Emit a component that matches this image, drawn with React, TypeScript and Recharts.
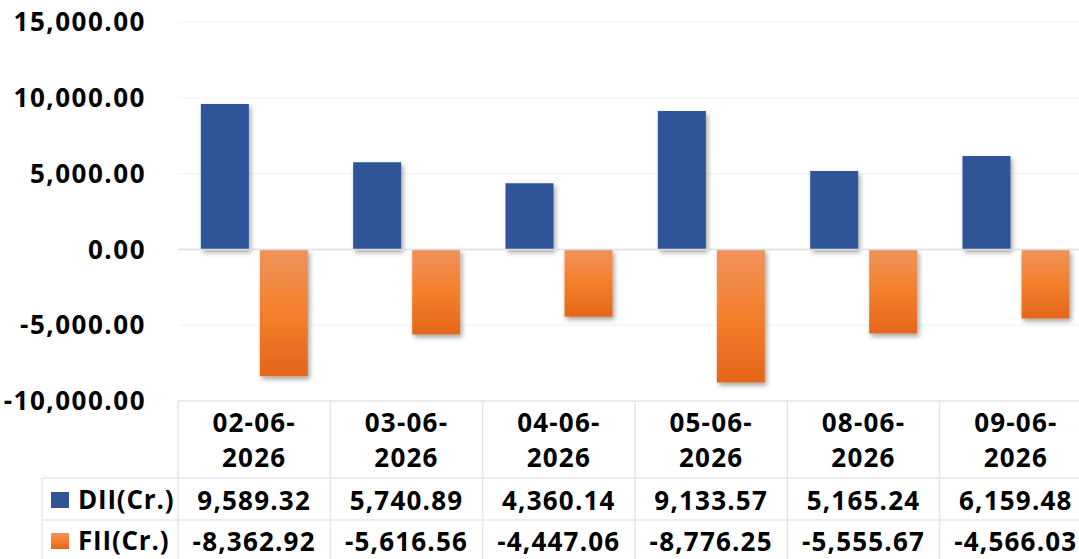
import React from 'react';
import { BarChart, Bar, XAxis, YAxis, CartesianGrid, ReferenceLine } from 'recharts';

const dates = ['02-06-2026', '03-06-2026', '04-06-2026', '05-06-2026', '08-06-2026', '09-06-2026'];
const diiValues = [9589.32, 5740.89, 4360.14, 9133.57, 5165.24, 6159.48];
const fiiValues = [-8362.92, -5616.56, -4447.06, -8776.25, -5555.67, -4566.03];
const yTicks = [-10000, -5000, 0, 5000, 10000, 15000];
const seriesNames = ['DII(Cr.)', 'FII(Cr.)'];
const seriesColors = ['#2F5597', '#F07A30'];

const data = dates.map((d, i) => ({ date: d, dii: diiValues[i], fii: fiiValues[i] }));

const fmt = (v: number) =>
  v.toLocaleString('en-US', { minimumFractionDigits: 2, maximumFractionDigits: 2 });

const FONT = '"Open Sans", Calibri, sans-serif';
const GRID = '#e6e6e6';

const W = 1079;
const H = 559;
const MARGIN = { top: 22, right: -13, bottom: 0, left: 0 };
const Y_AXIS_W = 178;
const X_AXIS_H = 158;
const COL_W = (W - MARGIN.left - MARGIN.right - Y_AXIS_W) / dates.length;

const TableTick = (props: any) => {
  const { x, y, payload } = props;
  const i = payload.index;
  const half = COL_W / 2;
  const left = x - half;
  const right = x + half;
  const [l1, l2] = [payload.value.slice(0, 6), payload.value.slice(6)];
  const textProps = {
    fontFamily: FONT, fontWeight: 700, fontSize: 26, fill: '#000',
    textAnchor: 'middle' as const, letterSpacing: 1.2,
  };
  const rowA = y + 77;
  const rowB = y + 119;
  const labelLeft = left - 136;
  return (
    <g>
      <line x1={left} y1={y} x2={left} y2={y + X_AXIS_H} stroke={GRID} strokeWidth={1.5} />
      {i === dates.length - 1 && (
        <line x1={right} y1={y} x2={right} y2={y + X_AXIS_H} stroke={GRID} strokeWidth={1.5} />
      )}
      <line x1={left} y1={rowA} x2={right} y2={rowA} stroke={GRID} strokeWidth={1.5} />
      <line x1={left} y1={rowB} x2={right} y2={rowB} stroke={GRID} strokeWidth={1.5} />
      <text x={x} y={y + 31} {...textProps}>{l1}</text>
      <text x={x} y={y + 66} {...textProps}>{l2}</text>
      <text x={x} y={y + 109} {...textProps}>{fmt(diiValues[i])}</text>
      <text x={x} y={y + 150} {...textProps}>{fmt(fiiValues[i])}</text>
      {i === 0 && (
        <g>
          <line x1={labelLeft} y1={rowA} x2={left} y2={rowA} stroke={GRID} strokeWidth={1.5} />
          <line x1={labelLeft} y1={rowB} x2={left} y2={rowB} stroke={GRID} strokeWidth={1.5} />
          <line x1={labelLeft} y1={rowA} x2={labelLeft} y2={y + X_AXIS_H} stroke={GRID} strokeWidth={1.5} />
          {seriesNames.map((name, k) => {
            const cy = k === 0 ? y + 99 : y + 140;
            return (
              <g key={name}>
                <rect x={labelLeft + 9} y={cy - 8} width={18} height={16}
                  fill={k === 0 ? seriesColors[0] : 'url(#orangeGrad)'} />
                <text x={labelLeft + 36} y={cy + 9} {...textProps} textAnchor="start" letterSpacing={0.8}>{name}</text>
              </g>
            );
          })}
        </g>
      )}
    </g>
  );
};

export default function App() {
  return (
    <div style={{ position: 'absolute', left: 0, top: 0, width: W, height: H, background: '#fff' }}>
      <BarChart width={W} height={H} data={data} margin={MARGIN} barCategoryGap="15%" barGap={11}>
        <defs>
          <linearGradient id="orangeGrad" x1="0" y1="0" x2="0" y2="1">
            <stop offset="0%" stopColor="#F0935C" />
            <stop offset="50%" stopColor="#F47F2C" />
            <stop offset="100%" stopColor="#E4661A" />
          </linearGradient>
          <filter id="shadow" x="-20%" y="-10%" width="150%" height="130%">
            <feDropShadow dx="2" dy="3" stdDeviation="2.5" floodColor="#000" floodOpacity="0.35" />
          </filter>
        </defs>
        <CartesianGrid vertical={false} stroke="#f1f1f1" />
        <XAxis
          dataKey="date"
          height={X_AXIS_H}
          axisLine={{ stroke: GRID, strokeWidth: 1.5 }}
          tickLine={false}
          tickSize={0}
          tickMargin={0}
          interval={0}
          tick={<TableTick />}
        />
        <YAxis
          width={Y_AXIS_W}
          domain={[-10000, 15000]}
          ticks={yTicks}
          axisLine={false}
          tickLine={false}
          tickSize={0}
          tickMargin={32}
          tickFormatter={fmt}
          tick={{ fill: '#000', fontSize: 26, fontWeight: 700, fontFamily: FONT, letterSpacing: 1.5 }}
        />
        <ReferenceLine y={0} stroke="#dedede" strokeWidth={1.5} />
        <Bar dataKey="dii" name={seriesNames[0]} fill={seriesColors[0]} isAnimationActive={false} filter="url(#shadow)" />
        <Bar dataKey="fii" name={seriesNames[1]} fill="url(#orangeGrad)" isAnimationActive={false} filter="url(#shadow)" />
      </BarChart>
    </div>
  );
}
